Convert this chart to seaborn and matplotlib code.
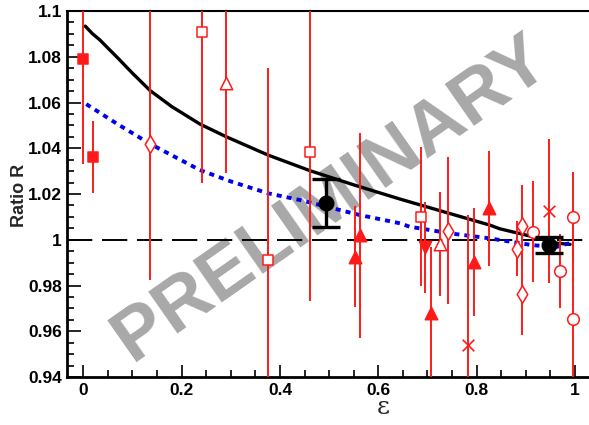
import numpy as np
import pandas as pd
import seaborn as sns
from matplotlib import pyplot as plt
from matplotlib.ticker import MultipleLocator, FormatStrFormatter

# theory curves
curve_eps = [0.004, 0.018, 0.034, 0.05, 0.07, 0.1, 0.136, 0.18, 0.237, 0.29, 0.376, 0.461,
             0.55, 0.644, 0.74, 0.827, 0.847, 0.915, 0.963, 0.99]
curve_full = [1.0934, 1.0902, 1.0873, 1.0838, 1.0795, 1.0728, 1.0652, 1.0582, 1.0506, 1.0451,
              1.037, 1.0302, 1.024, 1.0178, 1.0118, 1.0064, 1.0048, 1.0013, 0.9985, 0.998]
dot_eps = [0.006, 0.07, 0.136, 0.237, 0.3, 0.376, 0.44, 0.5625, 0.644, 0.664,
           0.746, 0.827, 0.847, 0.915, 0.963, 0.99]
dot_vals = [1.0593, 1.0505, 1.0419, 1.0305, 1.0255, 1.0203, 1.0174, 1.0108, 1.0072, 1.0057,
            1.0028, 1.0006, 0.9999, 0.9976, 0.9969, 0.9986]

# red data points, grouped by marker
sq_fill_eps = [0.0, 0.0203]
sq_fill_R = [1.079, 1.0363]
sq_fill_err = [0.046, 0.0158]

sq_open_eps = [0.2407, 0.3763, 0.461, 0.6868]
sq_open_R = [1.091, 0.9911, 1.0382, 1.0101]
sq_open_err = [0.066, 0.0838, 0.0648, 0.0305]

dia_eps = [0.1357, 0.7424, 0.8814, 0.892, 0.892]
dia_R = [1.0419, 1.004, 0.996, 1.0061, 0.9762]
dia_err = [0.0595, 0.032, 0.012, 0.0178, 0.0178]

tri_open_eps = [0.2896, 0.7255]
tri_open_R = [1.0684, 0.998]
tri_open_err = [0.039, 0.0228]

tri_fill_eps = [0.5525, 0.5634, 0.707, 0.7946, 0.825]
tri_fill_R = [0.9926, 1.002, 0.9678, 0.9904, 1.0138]
tri_fill_err = [0.022, 0.0448, 0.0292, 0.0237, 0.0252]

tri_down_eps = [0.695]
tri_down_R = [0.9967]
tri_down_err = [0.0198]

cross_eps = [0.7817, 0.947]
cross_R = [0.954, 1.0126]
cross_err = [0.057, 0.0313]

circ_eps = [0.915, 0.9695, 0.9953, 0.9953]
circ_R = [1.0035, 0.9863, 1.0101, 0.9654]
circ_err = [0.022, 0.0163, 0.0197, 0.035]

# black points
blk_eps = [0.4936, 0.947]
blk_R = [1.0162, 0.9977]
blk_err = [0.0105, 0.0033]

sns.set_theme(style='ticks')
plt.rcParams['font.family'] = ['Liberation Sans', 'DejaVu Sans']

fig = plt.figure(figsize=(5.89, 4.25), dpi=100)
ax = fig.add_axes([0.1143, 0.1129, 0.8857, 0.8612])

ax.axhline(1.0, color='black', lw=1.4, dashes=(13, 5), zorder=2)

ax.text(0.505, 1.018, 'PRELIMINARY', fontsize=54, fontweight='bold', color='#a8a8a8',
        rotation=35, ha='center', va='center', rotation_mode='anchor', zorder=1)

sns.lineplot(x=curve_eps, y=curve_full, color='black', lw=2.4, ax=ax, zorder=3)
sns.lineplot(x=dot_eps, y=dot_vals, color='#0000ee', lw=2.8, ax=ax, zorder=3,
             linestyle=(0, (1.3, 1.3)))

groups = [
    (sq_fill_eps, sq_fill_R, sq_fill_err, 's', True, 60),
    (sq_open_eps, sq_open_R, sq_open_err, 's', False, 60),
    (dia_eps, dia_R, dia_err, 'd', False, 80),
    (tri_open_eps, tri_open_R, tri_open_err, '^', False, 80),
    (tri_fill_eps, tri_fill_R, tri_fill_err, '^', True, 80),
    (tri_down_eps, tri_down_R, tri_down_err, 'v', True, 80),
    (cross_eps, cross_R, cross_err, 'x', True, 70),
    (circ_eps, circ_R, circ_err, 'o', False, 70),
]
for xs, ys, es, m, filled, s in groups:
    ax.errorbar(xs, ys, yerr=es, fmt='none', ecolor='#ff1a1a', elinewidth=1.4, zorder=4)
    if m == 'x':
        sns.scatterplot(x=xs, y=ys, marker=m, s=s, color='#ff1a1a', linewidth=1.2, ax=ax, zorder=5)
    else:
        sns.scatterplot(x=xs, y=ys, marker=m, s=s, facecolor='#ff1a1a' if filled else 'white',
                        edgecolor='#ff1a1a', linewidth=1.1, ax=ax, zorder=5)

ax.errorbar(blk_eps, blk_R, yerr=blk_err, fmt='o', color='black', ms=10.5,
            elinewidth=2.4, capsize=10, capthick=2.4, zorder=6)

ax.set_xlim(-0.0325, 1.0285)
ax.set_ylim(0.94, 1.1)
ax.xaxis.set_major_locator(MultipleLocator(0.2))
ax.xaxis.set_minor_locator(MultipleLocator(0.05))
ax.yaxis.set_major_locator(MultipleLocator(0.02))
ax.yaxis.set_minor_locator(MultipleLocator(0.005))
ax.xaxis.set_major_formatter(FormatStrFormatter('%g'))
ax.yaxis.set_major_formatter(FormatStrFormatter('%g'))
ax.tick_params(which='both', direction='in', width=1.2, colors='black',
               labelsize=12.5, top=False, right=False)
ax.tick_params(axis='y', which='major', length=10, pad=4)
ax.tick_params(axis='y', which='minor', length=5)
ax.tick_params(axis='x', which='major', length=9, pad=4)
ax.tick_params(axis='x', which='minor', length=5)
for lab in ax.get_xticklabels() + ax.get_yticklabels():
    lab.set_fontweight('bold')

for side in ['left', 'bottom']:
    ax.spines[side].set_linewidth(2)
    ax.spines[side].set_color('black')
ax.spines['top'].set_linewidth(1.5)
ax.spines['top'].set_color('black')
ax.spines['right'].set_visible(False)
ax.set_facecolor('white')

fig.text(20 / 589, 1 - 195 / 425, 'Ratio R', rotation=90, ha='center', va='center',
         fontsize=13, fontweight='bold')
fig.text(383 / 589, 1 - 408 / 425, '\u03b5', ha='center', va='center', fontsize=18,
         family=['DejaVu Serif'])

fig.savefig('out.png', dpi=100)
